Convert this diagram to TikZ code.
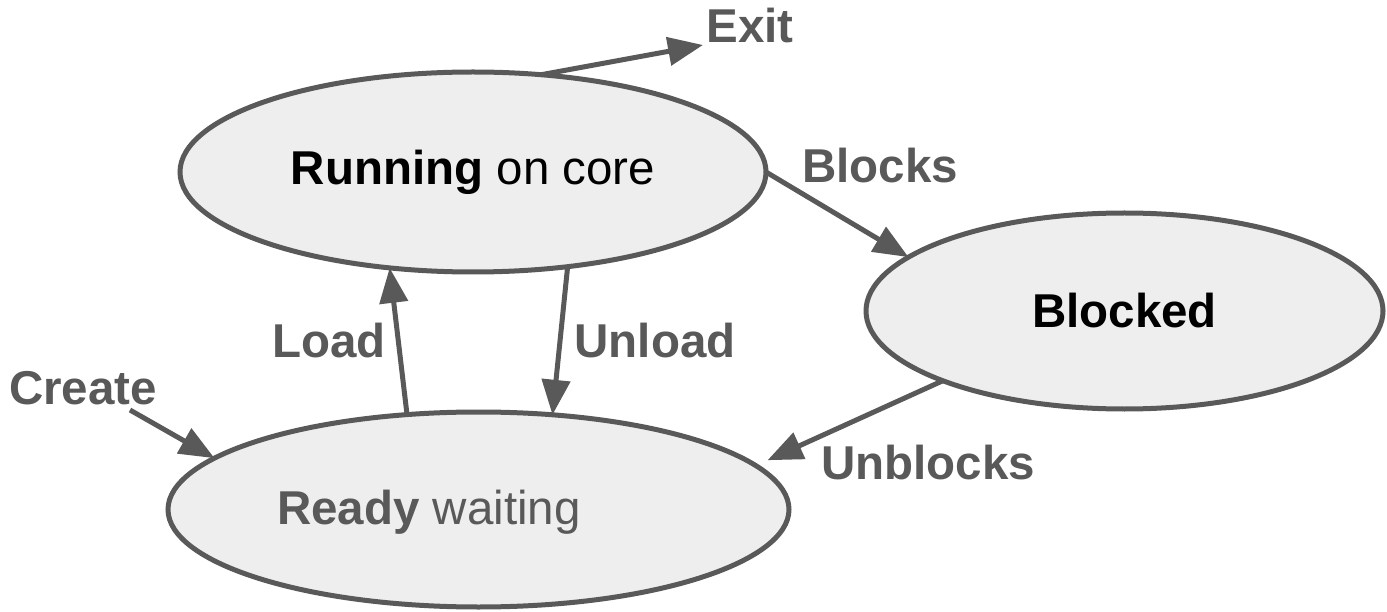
\documentclass[tikz,border=0pt]{standalone}
\usepackage{fontspec}
\setmainfont{Liberation Sans}
\usetikzlibrary{shapes.geometric,arrows.meta}
\definecolor{edge}{HTML}{595959}
\definecolor{statefill}{HTML}{EEEEEE}
\begin{document}
\begin{tikzpicture}[x=1pt,y=-1pt,
  state/.style={ellipse, draw=edge, fill=statefill, line width=5pt,
                inner sep=0pt, outer sep=0pt},
  flow/.style={draw=edge, line width=5pt,
               -{Triangle[length=35pt,width=28pt]}},
  lbl/.style={text=edge, font=\fontsize{47.5}{52}\selectfont\bfseries, inner sep=0pt},
  big/.style={font=\fontsize{47.5}{52}\selectfont, inner sep=0pt}]
\useasboundingbox (0,0) rectangle (1387,612);

% process states
\node[state, big, minimum width=586pt, minimum height=200pt]
  (running) at (473,172) {\textbf{Running} on core\hspace{12pt}};
\node[state, big, minimum width=517pt, minimum height=196pt]
  (blocked) at (1124.5,311) {\textbf{Blocked}};
\node[state, minimum width=621pt, minimum height=195pt]
  (ready) at (478.5,509.5) {};
\node[big, text=edge] (readytext) at (429,512) {\textbf{Ready} waiting};

% free ends
\coordinate (exitend) at (703,45);
\coordinate (createstart) at (130,410);

% transitions
\draw[flow] (running.55) -- (exitend);
\draw[flow] (running.east) -- (blocked.166);
\draw[flow] (ready.127) -- (running.229);
\draw[flow] (running.315) -- (ready.52);
\draw[flow] (createstart) -- (ready.169);
\draw[flow, shorten >=13pt] (blocked.201) -- (ready.9.4);

% transition labels
\node[lbl] (exitlbl) at (750,26) {Exit};
\node[lbl] (blockslbl) at (880,166) {Blocks};
\node[lbl] (loadlbl) at (329,341) {Load};
\node[lbl] (unloadlbl) at (655,341) {Unload};
\node[lbl] (createlbl) at (83,388) {Create};
\node[lbl] (unblockslbl) at (928,463) {Unblocks};
\end{tikzpicture}
\end{document}
